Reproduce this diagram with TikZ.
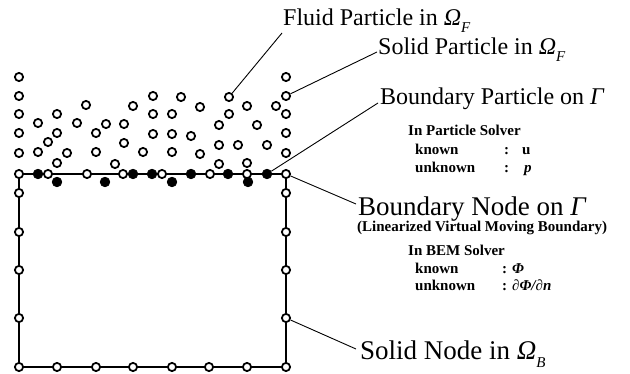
\documentclass[tikz,border=0pt]{standalone}
\usepackage{fontspec}
\setmainfont{Liberation Serif}
\newcommand\Lsub[1]{\raisebox{-0.28em}{\fontsize{15}{15}\selectfont\itshape #1}}
\tikzset{
  opn/.style={circle,draw=black,fill=white,line width=1.8pt,inner sep=0pt,minimum size=8.2pt},
  fil/.style={circle,draw=black,fill=black,line width=0.8pt,inner sep=0pt,minimum size=9.5pt},
  wall/.style={line width=1.9pt},
  lead/.style={line width=0.9pt},
  bigl/.style={font=\fontsize{24}{26}\selectfont,inner sep=0pt},
  bigm/.style={font=\fontsize{27}{29}\selectfont,inner sep=0pt},
  smallb/.style={font=\fontsize{15}{17}\selectfont\bfseries,inner sep=0pt},
}
\begin{document}
\begin{tikzpicture}[x=1pt,y=-1pt]
\useasboundingbox (0,0) rectangle (630,374);
% walls
\draw[wall] (19,174) -- (286,174);
\draw[wall] (19,174) -- (19,367) -- (286,367) -- (286,174);
% filled boundary particles below line
\foreach \x/\n in {57/a,105/b,172/c,248/d} \node[fil] (fb\n) at (\x,182) {};
% boundary particles on line
\foreach \x/\n in {38/a,133/b,152/c,191/d,228/e,267/f} \node[fil] (fl\n) at (\x,174) {};
\foreach \x/\n in {19/a,48/b,87/c,123/d,162/e,210/f,247/g,286/h} \node[opn] (ol\n) at (\x,174) {};
% side and bottom nodes
\foreach \y/\n in {193/a,232/b,270/c,318/d} {\node[opn] (sl\n) at (19,\y) {}; \node[opn] (sr\n) at (286,\y) {};}
\foreach \x/\n in {19/a,57/b,96/c,133/d,172/e,209/f,247/g,286/h} \node[opn] (sb\n) at (\x,367) {};
% solid particle columns
\foreach \y/\n in {77/a,96/b,114/c,133/d,153/e} {\node[opn] (pl\n) at (19,\y) {}; \node[opn] (pr\n) at (286,\y) {};}
% fluid particles
\foreach \x/\y [count=\i] in {86/105,133/106,153/96,181/97,200/107,229/97,247/106,276/106,
  38/123,57/114,77/123,106/124,124/124,153/114,172/114,229/114,219/125,257/125,
  57/133,96/133,153/134,172/134,191/136,48/142,38/152,67/153,96/152,124/143,143/152,
  172/152,200/154,219/145,238/145,267/145,57/163,115/164,219/164,247/163}
  \node[opn] (f\i) at (\x,\y) {};
% labels
\node[bigl,anchor=base west] (tfluid) at (283,26) {Fluid Particle in \textit{Ω}\Lsub{F}};
\node[bigl,anchor=base west] (tsolid) at (378,55) {Solid Particle in \textit{Ω}\Lsub{F}};
\node[bigl,anchor=base west] (tbpart) at (380,105) {Boundary Particle on \textit{Γ}};
\node[smallb,anchor=base west] (tps) at (408,136) {In Particle Solver};
\node[smallb,anchor=base west] (tk1) at (415,155) {known};
\node[smallb,anchor=base west] (tk1c) at (504,155) {:};
\node[smallb,anchor=base west] (tk1v) at (522,155) {u};
\node[smallb,anchor=base west] (tu1) at (415,173) {unknown};
\node[smallb,anchor=base west] (tu1c) at (504,173) {:};
\node[smallb,anchor=base west] (tu1v) at (524,173) {\itshape p};
\node[bigm,anchor=base west] (tbnode) at (358,216) {Boundary Node on \textit{Γ}};
\node[smallb,anchor=base west] (tlin) at (357,232) {(Linearized Virtual Moving Boundary)};
\node[smallb,anchor=base west] (tbem) at (408,256) {In BEM Solver};
\node[smallb,anchor=base west] (tk2) at (415,274) {known};
\node[smallb,anchor=base west] (tk2v) at (502,274) {: \itshape Φ};
\node[smallb,anchor=base west] (tu2) at (415,291) {unknown};
\node[smallb,anchor=base west] (tu2v) at (502,291) {: \itshape ∂Φ/∂n};
\node[bigm,anchor=base west] (tsnode) at (360,360) {Solid Node in \textit{Ω}\Lsub{B}};
% leaders
\coordinate (e1) at (282,33);
\coordinate (e2) at (377,52);
\coordinate (e3) at (378,103);
\coordinate (e4) at (356,204);
\coordinate (e5) at (356,349);
\draw[lead] (f6) -- (e1);
\draw[lead] (prb) -- (e2);
\draw[lead] (flf) -- (e3);
\draw[lead] (olh) -- (e4);
\draw[lead] (srd) -- (e5);
\end{tikzpicture}
\end{document}
